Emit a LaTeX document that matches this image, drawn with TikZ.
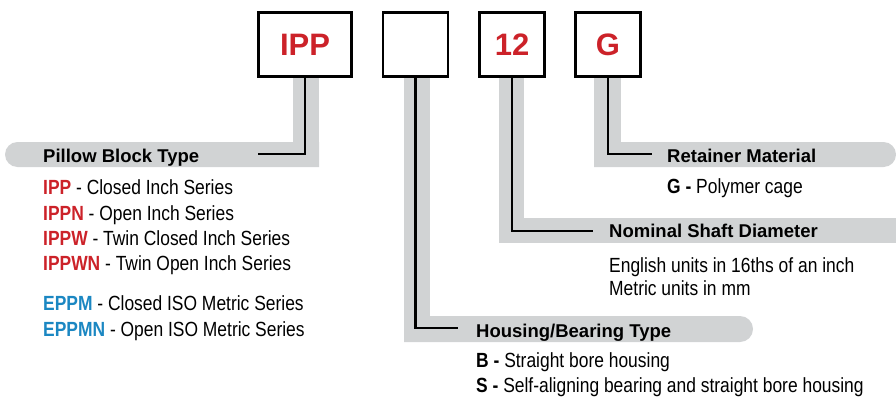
\documentclass[tikz,border=0pt]{standalone}
\usepackage{fontspec}
\setmainfont{Liberation Sans}
\newfontfamily\condfont[FakeStretch=0.85]{Liberation Sans}
\definecolor{ipred}{HTML}{CC2229}
\definecolor{ipblue}{HTML}{1B87C2}
\definecolor{bandgray}{HTML}{D1D3D4}
\tikzset{
  codebox/.style={draw, line width=2.6pt, minimum width=65pt, minimum height=64.5pt, inner sep=0pt,
    font=\fontsize{31}{31}\selectfont\bfseries, text=ipred},
  conn/.style={line width=2.6pt, black},
  band/.style={fill=bandgray},
  head/.style={anchor=base west, inner sep=0pt, font=\fontsize{18.5}{20}\selectfont\bfseries},
  body/.style={anchor=base west, inner sep=0pt, font=\condfont\fontsize{20.5}{24}\selectfont},
}
\begin{document}
\begin{tikzpicture}[x=1pt,y=-1pt]
\useasboundingbox (0,0) rectangle (896,396);
% gray bands
\fill[band] (293,78) rectangle (319,167);
\fill[band] (319,142) [rounded corners=12.5pt] -- (5,142) -- (5,167) [sharp corners] -- (319,167) -- cycle;
\fill[band] (404,78) rectangle (430,342);
\fill[band] (404,316) [rounded corners=13pt] -- (753,316) -- (753,342) [sharp corners] -- (404,342) -- cycle;
\fill[band] (499,78) rectangle (524,243);
\fill[band] (499,218) rectangle (896,243);
\fill[band] (594,78) rectangle (621,167);
\fill[band] (594,142) [rounded corners=12.5pt] -- (896,142) -- (896,167) [sharp corners] -- (594,167) -- cycle;
% boxes
\node[codebox, minimum width=93.5pt] (ipp) at (305,44.5) {IPP};
\node[codebox] (hb) at (415.5,44.5) {};
\node[codebox] (sz) at (512,44.5) {12};
\node[codebox] (rt) at (608,44.5) {G};
% connector ends
\coordinate (c1) at (258,154);
\coordinate (c2) at (458,328);
\coordinate (c3) at (593,231);
\coordinate (c4) at (652,154);
\draw[conn] (ipp.south) |- (c1);
\draw[conn] (hb.south) |- (c2);
\draw[conn] (sz.south) |- (c3);
\draw[conn] (rt.south) |- (c4);
% headings
\node[head] (h1) at (43,162) {Pillow Block Type};
\node[head] (h2) at (476,337) {Housing/Bearing Type};
\node[head] (h3) at (609,237) {Nominal Shaft Diameter};
\node[head] (h4) at (667,162) {Retainer Material};
% pillow block list
\node[body] (p1) at (43,194) {\textcolor{ipred}{\bfseries IPP} - Closed Inch Series};
\node[body] (p2) at (43,220) {\textcolor{ipred}{\bfseries IPPN} - Open Inch Series};
\node[body] (p3) at (43,245) {\textcolor{ipred}{\bfseries IPPW} - Twin Closed Inch Series};
\node[body] (p4) at (43,270) {\textcolor{ipred}{\bfseries IPPWN} - Twin Open Inch Series};
\node[body] (p5) at (43,310) {\textcolor{ipblue}{\bfseries EPPM} - Closed ISO Metric Series};
\node[body] (p6) at (43,336) {\textcolor{ipblue}{\bfseries EPPMN} - Open ISO Metric Series};
% retainer
\node[body] (g1) at (667,193) {\bfseries G -\mdseries{} Polymer cage};
% nominal
\node[body] (n1) at (609,272) {English units in 16ths of an inch};
\node[body] (n2) at (609,295) {Metric units in mm};
% housing
\node[body] (b1) at (476,367) {\bfseries B -\mdseries{} Straight bore housing};
\node[body] (b2) at (476,392) {\bfseries S -\mdseries{} Self-aligning bearing and straight bore housing};
\end{tikzpicture}
\end{document}
